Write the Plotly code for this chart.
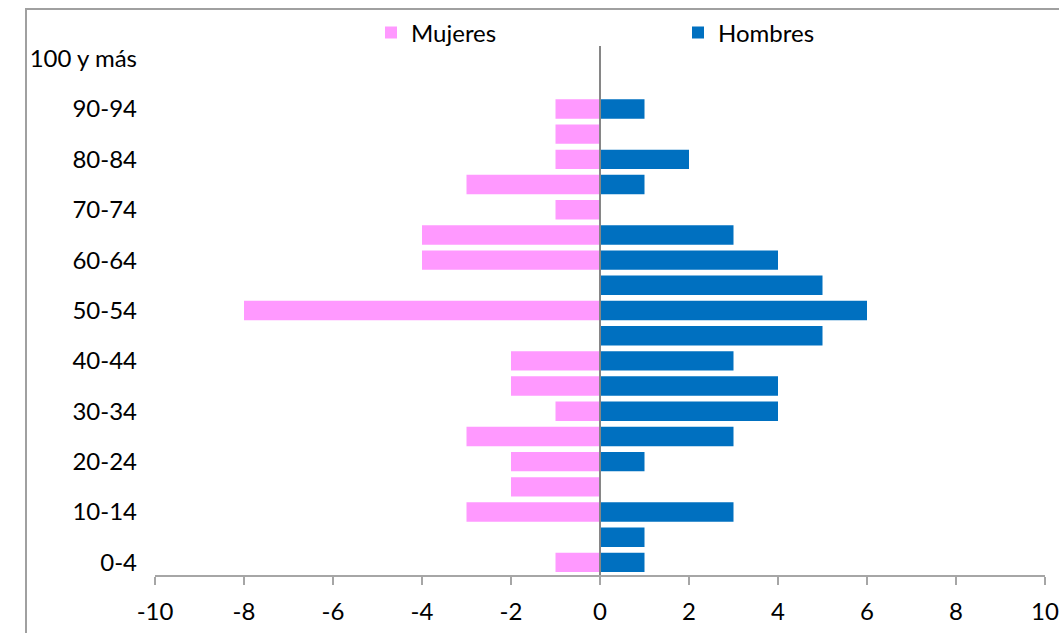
import plotly.graph_objects as go

categories = ["0-4", "5-9", "10-14", "15-19", "20-24", "25-29", "30-34", "35-39",
              "40-44", "45-49", "50-54", "55-59", "60-64", "65-69", "70-74", "75-79",
              "80-84", "85-89", "90-94", "95-99", "100 y más"]
mujeres = [-1, 0, -3, -2, -2, -3, -1, -2, -2, 0, -8, 0, -4, -4, -1, -3, -1, -1, -1, 0, 0]
hombres = [1, 1, 3, 0, 1, 3, 4, 4, 3, 5, 6, 5, 4, 3, 0, 1, 2, 0, 1, 0, 0]
y_tick_labels = ["0-4", "10-14", "20-24", "30-34", "40-44", "50-54", "60-64",
                 "70-74", "80-84", "90-94", "100 y más"]
x_ticks = [-10, -8, -6, -4, -2, 0, 2, 4, 6, 8, 10]

FONT = "Lato"
PINK, BLUE = "#FF99FF", "#0070C0"

fig = go.Figure()
fig.add_trace(go.Bar(y=categories, x=mujeres, name="Mujeres", orientation="h",
                     marker=dict(color=PINK, line=dict(width=0))))
fig.add_trace(go.Bar(y=categories, x=hombres, name="Hombres", orientation="h",
                     marker=dict(color=BLUE, line=dict(width=0))))

L, R, T, B = 155, 14, 46, 58
W, H = 1059, 633
pw, ph = W - L - R, H - T - B

fig.update_layout(
    width=W, height=H,
    margin=dict(l=L, r=R, t=T, b=B, pad=0, autoexpand=False),
    barmode="overlay", bargap=0.23,
    plot_bgcolor="white", paper_bgcolor="white",
    font=dict(family=FONT, size=24, color="black"),
    showlegend=True,
    legend=dict(orientation="h", x=(371 - L) / pw, y=1 + 13 / ph,
                xanchor="left", yanchor="middle",
                entrywidth=262, entrywidthmode="pixels",
                font=dict(size=24), itemwidth=30, bgcolor="rgba(0,0,0,0)"),
    xaxis=dict(range=[-10, 10], tickvals=x_ticks, ticktext=[str(v) for v in x_ticks],
               showgrid=False, zeroline=False,
               showline=True, linecolor="#A6A6A6", linewidth=2,
               ticks="outside", ticklen=8, tickwidth=2, tickcolor="#A6A6A6",
               ticklabelstandoff=6, fixedrange=True, automargin=False),
    yaxis=dict(categoryorder="array", categoryarray=categories,
               tickvals=y_tick_labels, ticktext=y_tick_labels,
               showgrid=False, zeroline=False, showline=False, ticks="",
               ticklabelstandoff=17, range=[-0.5, len(categories) - 0.5],
               automargin=False, fixedrange=True),
    shapes=[
        dict(type="rect", xref="paper", yref="paper",
             x0=(26 - L) / pw, x1=(1070 - L) / pw,
             y0=(H - B - 645) / ph, y1=(H - B - 9) / ph,
             line=dict(color="#A0A0A0", width=2), layer="below"),
        # vertical axis crossing at x = 0, drawn above the bars
        dict(type="line", xref="x", yref="paper", x0=0, x1=0, y0=0, y1=1,
             line=dict(color="#868686", width=2), layer="above"),
    ],
)
fig.write_html("out.html", post_script="document.body.style.margin='0';",
               config={"displayModeBar": False})
